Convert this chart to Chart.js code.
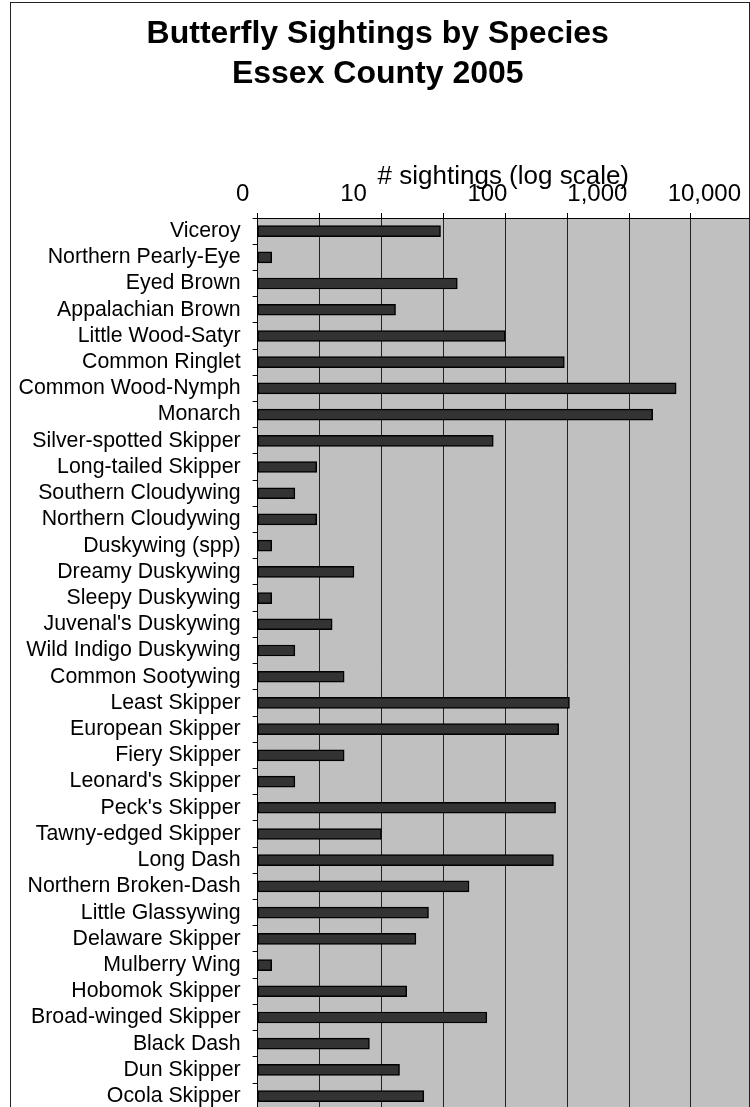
<!DOCTYPE html>
<html>
<head>
<meta charset="utf-8">
<script src="https://cdn.jsdelivr.net/npm/chart.js@4/dist/chart.umd.min.js"></script>
<style>
  html, body { margin: 0; padding: 0; background: #fff; overflow: hidden; }
  .wrap { position: relative; width: 750px; height: 1107px; overflow: hidden; }
  .frame { position: absolute; left: 10px; top: 2px; width: 738px; height: 1200px; border: 1px solid #222; pointer-events: none; }
  #chart { position: absolute; left: 10px; top: 0; }
</style>
</head>
<body>
<div class="wrap">
  <canvas id="chart" width="739" height="1134"></canvas>
  <div class="frame"></div>
</div>
<script>
var species = [
  "Viceroy", "Northern Pearly-Eye", "Eyed Brown", "Appalachian Brown", "Little Wood-Satyr",
  "Common Ringlet", "Common Wood-Nymph", "Monarch", "Silver-spotted Skipper", "Long-tailed Skipper",
  "Southern Cloudywing", "Northern Cloudywing", "Duskywing (spp)", "Dreamy Duskywing", "Sleepy Duskywing",
  "Juvenal's Duskywing", "Wild Indigo Duskywing", "Common Sootywing", "Least Skipper", "European Skipper",
  "Fiery Skipper", "Leonard's Skipper", "Peck's Skipper", "Tawny-edged Skipper", "Long Dash",
  "Northern Broken-Dash", "Little Glassywing", "Delaware Skipper", "Mulberry Wing", "Hobomok Skipper",
  "Broad-winged Skipper", "Black Dash", "Dun Skipper", "Ocola Skipper"
];
var sightings = [
  30, 1.3, 41, 13, 100,
  300, 2400, 1550, 80, 3,
  2, 3, 1.3, 6, 1.3,
  4, 2, 5, 330, 270,
  5, 2, 255, 10, 245,
  51, 24, 19, 1.3, 16,
  71, 8, 14, 22
];
// top labels as they sit on the original (positions in decades of the log axis)
var tickLabels = ["0", "10", "100", "1,000", "10,000"];
var tickLabelPos = [-0.12, 0.775, 1.856, 2.744, 3.608];

var xMin = 1;
var xMax = 9300;

Chart.defaults.font.family = '"Liberation Sans", Arial, sans-serif';
Chart.defaults.color = "#000";

var plotBg = {
  id: "plotBg",
  beforeDraw: function(chart) {
    var a = chart.chartArea;
    var ctx = chart.ctx;
    ctx.save();
    ctx.fillStyle = "#c0c0c0";
    ctx.fillRect(a.left, a.top, a.right - a.left, a.bottom - a.top);
    ctx.restore();
  }
};

new Chart(document.getElementById("chart"), {
  type: "bar",
  data: {
    labels: species,
    datasets: [{
      label: "# sightings",
      data: sightings,
      backgroundColor: "#333333",
      borderColor: "#000",
      borderWidth: 1.5,
      borderSkipped: false,
      barThickness: 11
    }]
  },
  options: {
    indexAxis: "y",
    responsive: false,
    animation: false,
    layout: { padding: { left: -3.5, right: 0, top: 0, bottom: 0 } },
    plugins: {
      legend: { display: false },
      tooltip: { enabled: false },
      title: {
        display: true,
        text: ["Butterfly Sightings by Species", "Essex County 2005"],
        color: "#000",
        font: { size: 32, weight: "bold", lineHeight: 40 / 32 },
        padding: { top: 14, bottom: 60.5 }
      }
    },
    scales: {
      x: {
        type: "logarithmic",
        position: "top",
        min: xMin,
        max: xMax,
        weight: 0,
        afterBuildTicks: function(axis) {
          var t = [];
          for (var k = 0; Math.pow(10, k / 2) < xMax; k++) t.push({ value: Math.pow(10, k / 2) });
          axis.ticks = t;
        },
        ticks: { display: false },
        grid: { color: "#222", lineWidth: 1, drawTicks: true, tickLength: 5, tickColor: "#000" },
        border: { display: true, color: "#000", width: 1 }
      },
      x2: {
        type: "linear",
        position: "top",
        min: Math.log10(xMin),
        max: Math.log10(xMax),
        weight: 1,
        afterBuildTicks: function(axis) {
          axis.ticks = tickLabelPos.map(function(v) { return { value: v }; });
        },
        ticks: {
          autoSkip: false,
          maxRotation: 0,
          padding: 7,
          color: "#000",
          font: { size: 24, lineHeight: 1 },
          callback: function(v, i) { return tickLabels[i]; }
        },
        grid: { display: false, drawTicks: false },
        border: { display: false },
        title: {
          display: true,
          text: "# sightings (log scale)",
          color: "#000",
          font: { size: 26, lineHeight: 1 },
          padding: { top: 9.5, bottom: -15 }
        }
      },
      y: {
        type: "category",
        ticks: { autoSkip: false, padding: 12, color: "#000", font: { size: 21.3 } },
        grid: { drawOnChartArea: false, drawTicks: true, tickLength: 5, tickColor: "#000", offset: true },
        border: { display: true, color: "#000", width: 1 }
      }
    }
  },
  plugins: [plotBg]
});
</script>
</body>
</html>
